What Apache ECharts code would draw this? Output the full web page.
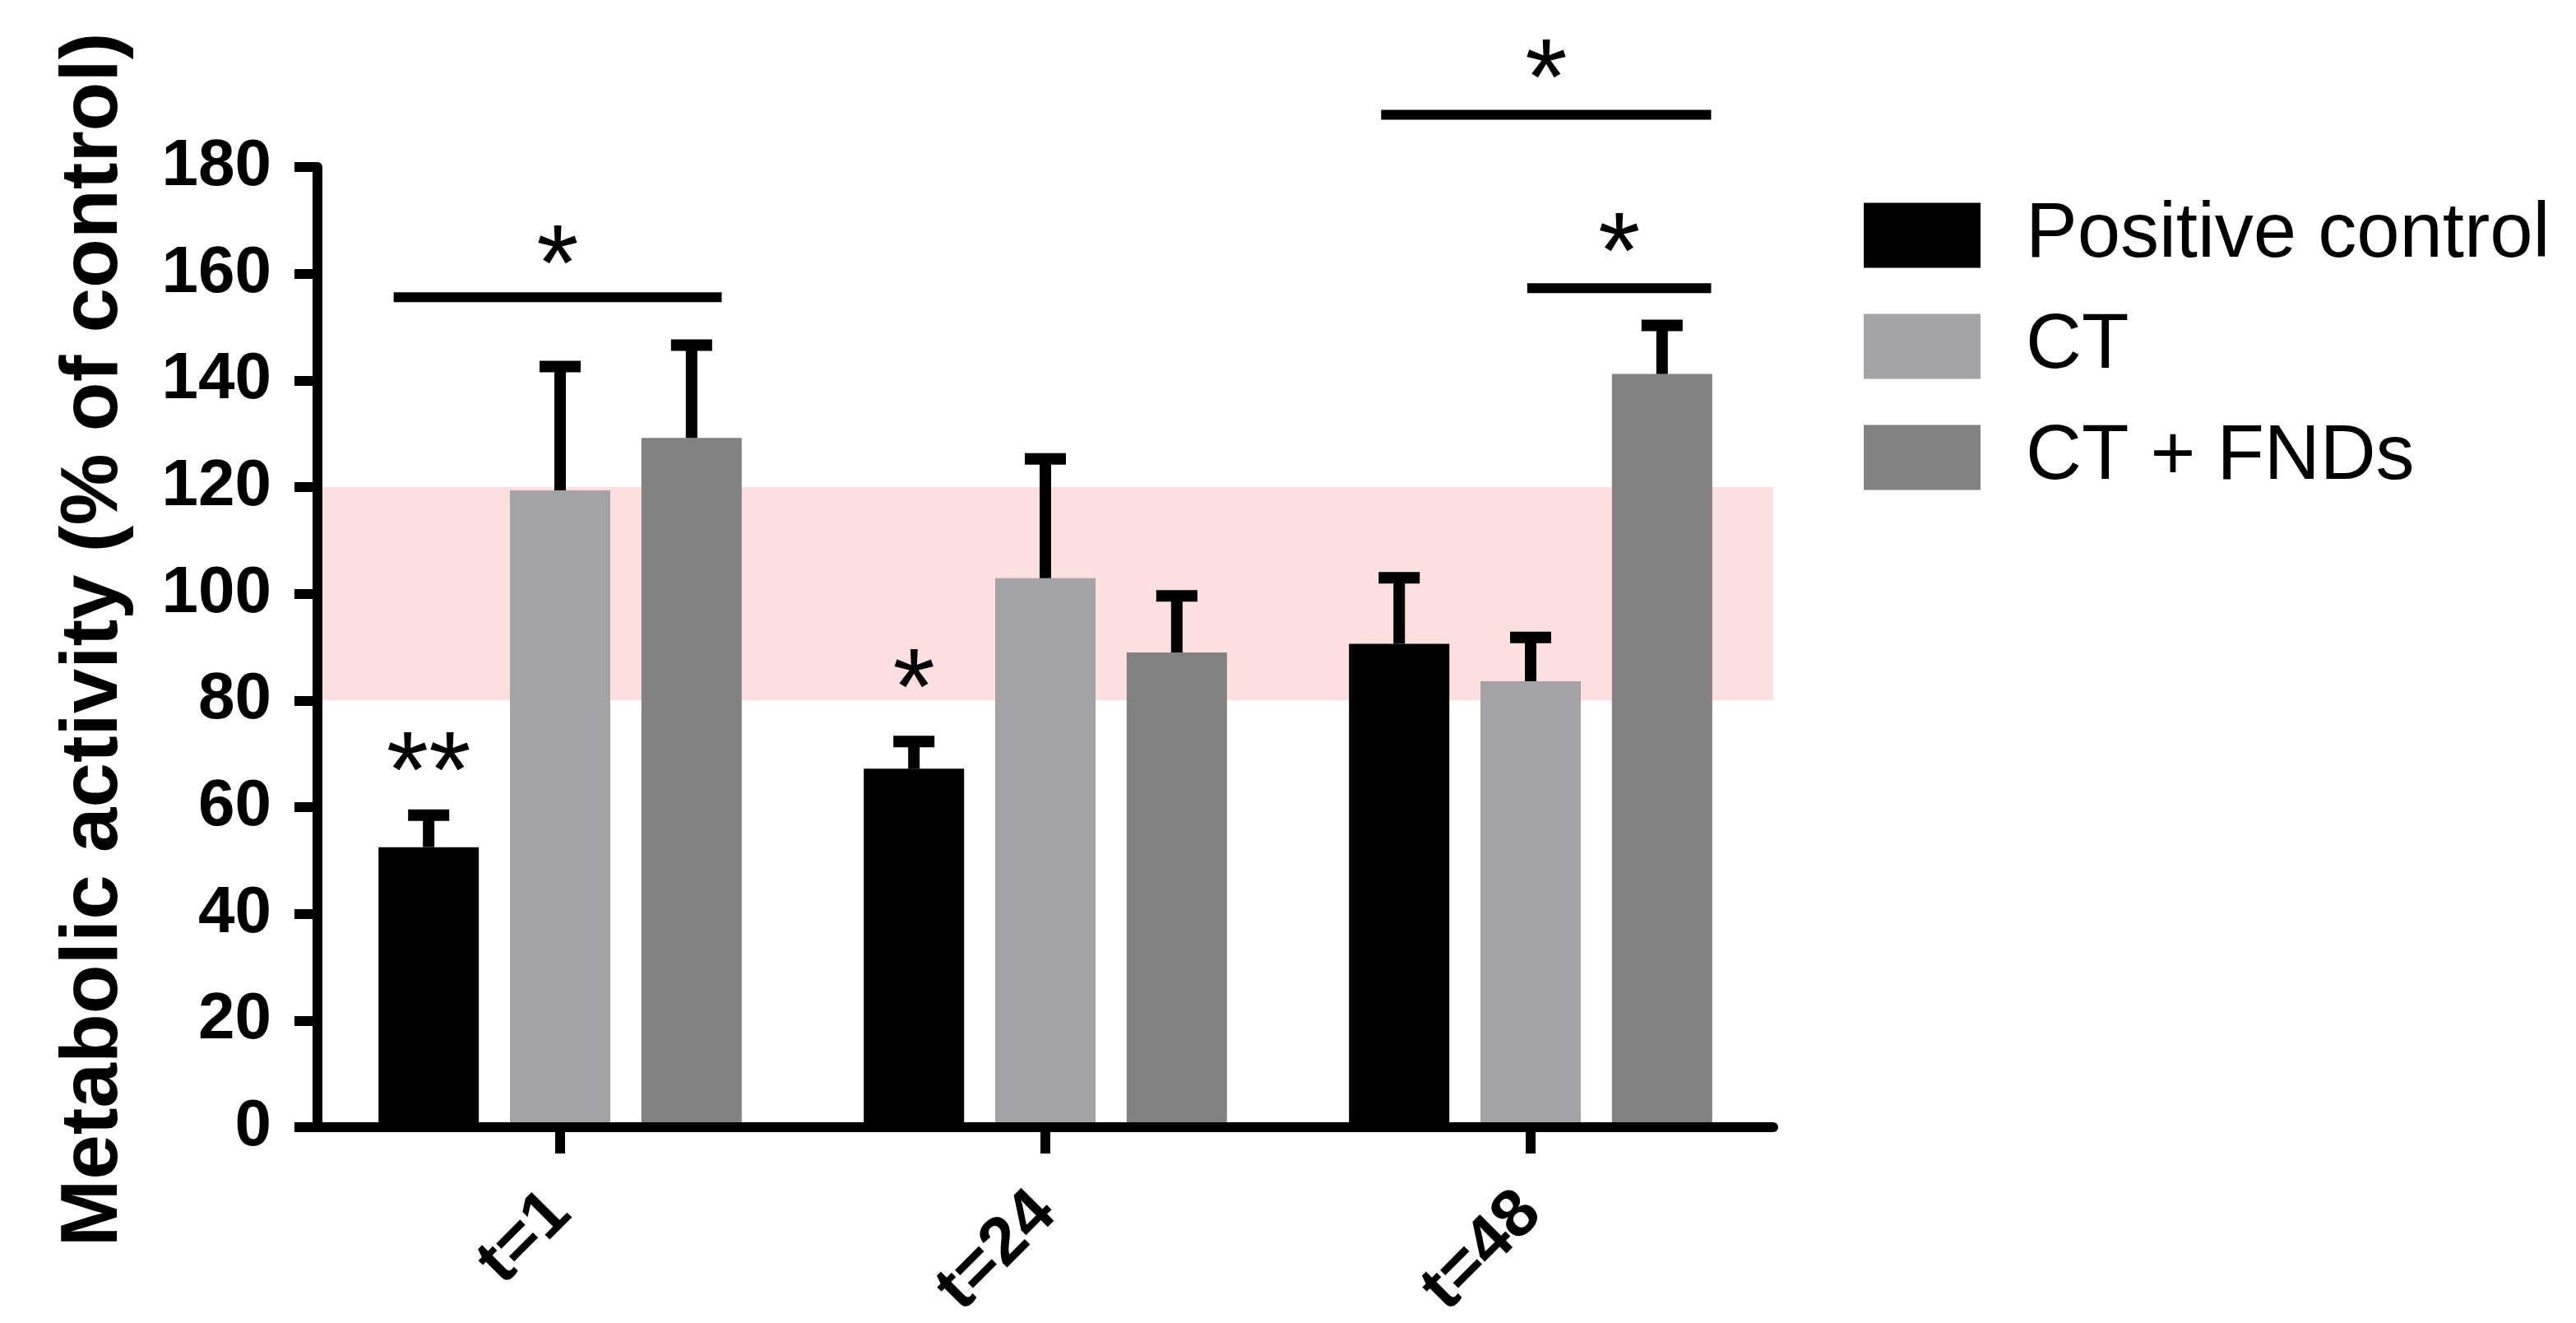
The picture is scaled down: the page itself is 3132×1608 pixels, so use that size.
<!DOCTYPE html>
<html>
<head>
<meta charset="utf-8">
<script src="https://cdn.jsdelivr.net/npm/echarts@6/dist/echarts.min.js"></script>
<style>html,body{margin:0;padding:0;background:#fff}#c{width:3132px;height:1608px}</style>
</head>
<body>
<div id="c"></div>
<script>
// ---- data ----
const categories = ['t=1', 't=24', 't=48'];
const seriesNames = ['Positive control', 'CT', 'CT + FNDs'];
const positiveControl = [52.5, 67.2, 90.6];
const ct = [119.4, 102.9, 83.6];
const ctFnds = [129.2, 89.0, 141.2];
const positiveControlErr = [6.0, 5.1, 12.4];
const ctErr = [23.2, 22.4, 8.2];
const ctFndsErr = [17.4, 10.6, 9.1];
const normalRange = [80, 120];
// stars directly above a bar: [category, series, y of star, label]
const barStars = [[0, 0, 70.7, '**'], [1, 0, 86.3, '*']];
// brackets: [category, y of line, y of star, label]
const brackets = [[0, 155.6, 165.7, '*'], [2, 189.8, 200.5, '*'], [2, 157.3, 168.0, '*']];

// ---- layout / style ----
const FONT = '"Liberation Sans", Arial, Helvetica, sans-serif';
const BAR_WIDTH = 122;
const BAR_GAP = 0.31;
const colors = ['#000000', '#a3a2a7', '#828282'];
// horizontal extent of each bracket, in category-band fractions around the category centre
const bracketSpan = [[-0.343, 0.333], [-0.308, 0.372], [-0.007, 0.372]];
const STAR_SIZE = 132;

const means = [positiveControl, ct, ctFnds];
const errs = [positiveControlErr, ctErr, ctFndsErr];
const barOffset = s => (s - 1) * BAR_WIDTH * (1 + BAR_GAP);

const errData = [];
means.forEach((arr, s) => arr.forEach((v, c) => errData.push([c, v, s, errs[s][c]])));

const chart = echarts.init(document.getElementById('c'));

const barSeries = seriesNames.map((n, s) => ({
  name: n, type: 'bar', data: means[s], barWidth: BAR_WIDTH, barGap: (BAR_GAP * 100) + '%',
  itemStyle: { color: colors[s] }, z: 2, emphasis: { disabled: true }
}));

function starText(x, y, label) {
  return {
    type: 'text',
    style: {
      text: label, x: x, y: y + STAR_SIZE * 0.25, fill: '#000',
      font: 'normal ' + STAR_SIZE + 'px ' + FONT,
      align: 'center', verticalAlign: 'middle', textAlign: 'center', textVerticalAlign: 'middle'
    }
  };
}

chart.setOption({
  animation: false,
  backgroundColor: '#fff',
  grid: { left: 386, right: 976, top: 203, bottom: 238, containLabel: false, outerBoundsMode: 'none' },
  legend: {
    data: seriesNames, orient: 'vertical', left: 2266, top: 239, padding: 0,
    itemWidth: 142, itemHeight: 79, itemGap: 41, icon: 'rect', selectedMode: false,
    textStyle: { fontSize: 94, color: '#000', fontFamily: FONT, lineHeight: 94, padding: [0, 0, 0, 50] }
  },
  xAxis: {
    type: 'category', data: categories, z: 10,
    axisLine: { show: true, lineStyle: { color: '#000', width: 12 } },
    axisTick: { show: true, alignWithLabel: true, length: 32, lineStyle: { color: '#000', width: 12 } },
    axisLabel: { rotate: 45, fontSize: 82, fontWeight: 'bold', color: '#000', fontFamily: FONT, margin: 92 },
    splitLine: { show: false }
  },
  yAxis: {
    type: 'value', min: 0, max: 180, interval: 20, z: 10,
    name: 'Metabolic activity (% of control)', nameLocation: 'middle', nameGap: 222,
    nameTextStyle: { fontSize: 98, fontWeight: 'bold', color: '#000', fontFamily: FONT, padding: [0, 0, 0, 18] },
    axisLine: { show: true, lineStyle: { color: '#000', width: 12 } },
    axisTick: { show: true, length: 28, lineStyle: { color: '#000', width: 12 } },
    axisLabel: { fontSize: 80, fontWeight: 'bold', color: '#000', fontFamily: FONT, margin: 56 },
    splitLine: { show: false }
  },
  series: [
    {
      type: 'custom', name: 'band', z: 1, silent: true,
      data: [[0, normalRange[0], normalRange[1]]],
      encode: { x: 0, y: 1 },
      renderItem: function (params, api) {
        const cs = params.coordSys;
        const y0 = api.coord([0, api.value(1)])[1];
        const y1 = api.coord([0, api.value(2)])[1];
        return { type: 'rect', shape: { x: cs.x, y: y1, width: cs.width, height: y0 - y1 }, style: { fill: '#fddfe0' } };
      }
    },
    ...barSeries,
    {
      type: 'custom', name: 'err', z: 3, silent: true, clip: false,
      data: errData, encode: { x: 0, y: 1 },
      renderItem: function (params, api) {
        const c = api.value(0), m = api.value(1), s = api.value(2), e = api.value(3);
        const x = api.coord([c, m])[0] + barOffset(s);
        const yb = api.coord([c, m])[1];
        const yt = api.coord([c, m + e])[1];
        return {
          type: 'group', children: [
            { type: 'rect', shape: { x: x - 7, y: yt, width: 14, height: yb - yt }, style: { fill: '#000' } },
            { type: 'rect', shape: { x: x - 25, y: yt - 7, width: 50, height: 14 }, style: { fill: '#000' } }
          ]
        };
      }
    },
    {
      type: 'custom', name: 'barStars', z: 3, silent: true, clip: false,
      data: barStars, encode: { x: 0, y: 2 },
      renderItem: function (params, api) {
        const d = barStars[params.dataIndex];
        const p = api.coord([d[0], d[2]]);
        return starText(p[0] + barOffset(d[1]), p[1], d[3]);
      }
    },
    {
      type: 'custom', name: 'brackets', z: 3, silent: true, clip: false,
      data: brackets, encode: { x: 0, y: 1 },
      renderItem: function (params, api) {
        const d = brackets[params.dataIndex];
        const span = bracketSpan[params.dataIndex];
        const bw = api.size([1, 0])[0];
        const p = api.coord([d[0], d[1]]);
        const ps = api.coord([d[0], d[2]]);
        const x0 = p[0] + span[0] * bw, x1 = p[0] + span[1] * bw;
        return {
          type: 'group', children: [
            { type: 'rect', shape: { x: x0, y: p[1] - 6, width: x1 - x0, height: 12 }, style: { fill: '#000' } },
            starText((x0 + x1) / 2, ps[1], d[3])
          ]
        };
      }
    }
  ]
});
</script>
</body>
</html>
